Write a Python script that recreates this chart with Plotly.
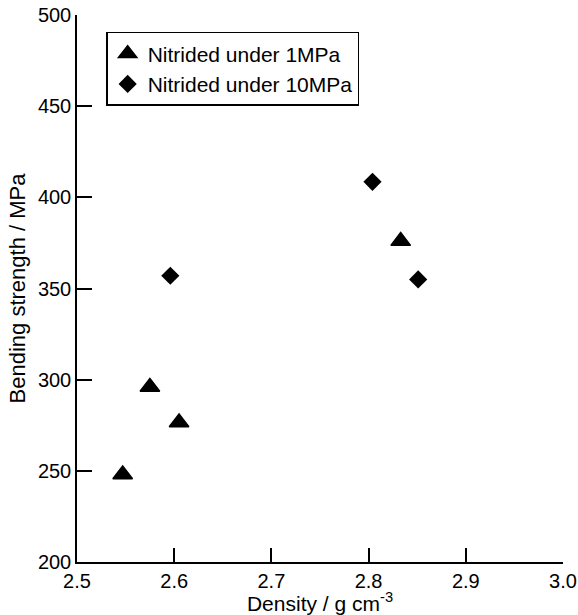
import plotly.graph_objects as go

# Data
density_1mpa = [2.547, 2.575, 2.605, 2.833]
strength_1mpa = [248, 296, 276.5, 376]
density_10mpa = [2.596, 2.804, 2.851]
strength_10mpa = [357, 408.5, 355]

x_ticks = [2.5, 2.6, 2.7, 2.8, 2.9, 3.0]
x_tick_labels = ["2.5", "2.6", "2.7", "2.8", "2.9", "3.0"]
y_ticks = [200, 250, 300, 350, 400, 450, 500]

FONT = "Liberation Sans, Arial, Helvetica, sans-serif"

fig = go.Figure()
fig.add_trace(go.Scatter(
    x=density_1mpa, y=strength_1mpa, mode="markers",
    name="Nitrided under 1MPa",
    marker=dict(symbol="triangle-up", size=17, color="black",
                line=dict(width=1.5, color="black")),
))
fig.add_trace(go.Scatter(
    x=density_10mpa, y=strength_10mpa, mode="markers",
    name="Nitrided under 10MPa",
    marker=dict(symbol="diamond", size=14, color="black",
                line=dict(width=0)),
))

fig.update_layout(
    width=578, height=615,
    margin=dict(l=77, r=15, t=15, b=53),
    paper_bgcolor="white", plot_bgcolor="white",
    font=dict(family=FONT, size=19, color="black"),
    showlegend=True,
    legend=dict(
        x=0.06, y=0.969, xanchor="left", yanchor="top",
        bordercolor="black", borderwidth=1.5, bgcolor="white",
        font=dict(family=FONT, size=21, color="black"),
        tracegroupgap=0, itemwidth=30,
    ),
)
fig.update_xaxes(
    range=[2.5, 3.0], tickvals=x_ticks, ticktext=x_tick_labels,
    showgrid=False, zeroline=False, showline=True, linecolor="black", linewidth=1.5,
    ticks="inside", ticklen=14, tickwidth=1.5, tickcolor="black",
    automargin=False,
    title=dict(text="Density / g cm<sup>-3</sup>", standoff=0, font=dict(size=21)),
    tickfont=dict(size=20),
)
fig.update_yaxes(
    range=[200, 500], tickvals=y_ticks,
    showgrid=False, zeroline=False, showline=True, linecolor="black", linewidth=1.5,
    ticks="inside", ticklen=15, tickwidth=1.5, tickcolor="black",
    automargin=False,
    title=dict(text="Bending strength / MPa", standoff=6, font=dict(size=22)),
    tickfont=dict(size=20),
)

# Remove the browser's default 8px body margin so the figure fills the window
fig.write_html(
    "out.html",
    config={"displayModeBar": False},
    post_script="document.body.style.margin='0';document.body.style.overflow='hidden';",
)
